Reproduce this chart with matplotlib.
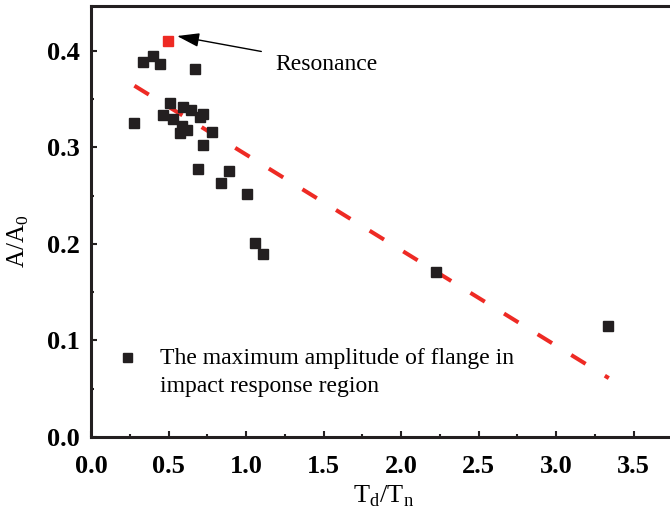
import numpy as np
import matplotlib as mpl
mpl.use('Agg')
import matplotlib.pyplot as plt
from matplotlib.ticker import MultipleLocator
from matplotlib.legend_handler import HandlerLine2D

# measured points: T_d/T_n vs A/A0
td_tn = [0.279, 0.334, 0.402, 0.445, 0.671, 0.510, 0.466, 0.531, 0.595, 0.643,
         0.725, 0.703, 0.585, 0.617, 0.574, 0.779, 0.725, 0.692, 0.892, 0.837,
         1.005, 1.058, 1.112, 2.226, 3.337]
amp = [0.325, 0.389, 0.395, 0.387, 0.381, 0.346, 0.334, 0.329, 0.342, 0.339,
       0.335, 0.332, 0.322, 0.318, 0.315, 0.316, 0.303, 0.278, 0.276, 0.263,
       0.2515, 0.2007, 0.190, 0.1707, 0.1153]

# resonance point
res_x = [0.499]
res_y = [0.410]

# linear trend line
fit_x = [0.28, 3.34]
fit_y = [0.364, 0.061]


class TopHandler(HandlerLine2D):
    # put the legend marker level with the first text line
    def create_artists(self, legend, orig_handle, xdescent, ydescent, width, height, fontsize, trans):
        arts = super().create_artists(legend, orig_handle, xdescent, ydescent, width, height, fontsize, trans)
        for a in arts:
            a.set_ydata(np.asarray(a.get_ydata()) + 11.0)
        return arts


mpl.rcParams['font.family'] = ['Liberation Serif', 'DejaVu Serif']
mpl.rcParams['mathtext.fontset'] = 'custom'
mpl.rcParams['mathtext.rm'] = 'Liberation Serif'

fig = plt.figure(figsize=(6.7, 5.28), dpi=100)
ax = fig.add_axes([91/670, 91/528, 586/670, 431/528])

ax.plot(fit_x, fit_y, color='#ee2a24', lw=2.9, dashes=(4.2, 5.6), zorder=2)
pts, = ax.plot(td_tn, amp, 's', color='#231f20', ms=7.2, mec='#231f20', ls='none', zorder=3,
               label='The maximum amplitude of flange in\nimpact response region')
ax.plot(res_x, res_y, 's', color='#ee2a24', ms=7.2, mec='#ee2a24', ls='none', zorder=4)

ax.annotate('Resonance', xy=(0.555, 0.4155), xytext=(1.187, 0.386),
            fontsize=17, ha='left', va='center',
            arrowprops=dict(arrowstyle='-|>,head_length=0.8,head_width=0.25',
                            color='black', lw=1.0, relpos=(0, 1.0), shrinkA=8, shrinkB=0))

ax.set_xlim(0, 3.78)
ax.set_ylim(0, 0.4466)
ax.xaxis.set_major_locator(MultipleLocator(0.5))
ax.xaxis.set_minor_locator(MultipleLocator(0.25))
ax.yaxis.set_major_locator(MultipleLocator(0.1))
ax.yaxis.set_minor_locator(MultipleLocator(0.05))
ax.xaxis.set_major_formatter(mpl.ticker.FormatStrFormatter('%.1f'))
ax.yaxis.set_major_formatter(mpl.ticker.FormatStrFormatter('%.1f'))
ax.tick_params(which='both', direction='in', top=False, right=False, width=1.5, color='#231f20')
ax.tick_params(which='major', length=4.5, labelsize=19)
ax.tick_params(axis='x', which='major', pad=13)
ax.tick_params(axis='y', which='major', pad=8)
ax.tick_params(which='minor', length=2.5)
for lab in ax.get_xticklabels() + ax.get_yticklabels():
    lab.set_fontweight('bold')
for sp in ax.spines.values():
    sp.set_linewidth(2.2)
    sp.set_color('#231f20')

ax.set_xlabel(r'T$_\mathregular{d}$/T$_\mathregular{n}$', fontsize=19, labelpad=4)
ax.set_ylabel(r'A/A$_\mathregular{0}$', fontsize=18)
ax.yaxis.set_label_coords(-0.103, 0.455)

leg = ax.legend(loc='upper left', bbox_to_anchor=(0.021, 0.235), frameon=False, fontsize=17,
                handlelength=1.0, handletextpad=0.9, markerscale=0.9, borderpad=0,
                handler_map={pts: TopHandler()})
for t in leg.get_texts():
    t.set_linespacing(1.45)

fig.savefig('out.png', dpi=100)
